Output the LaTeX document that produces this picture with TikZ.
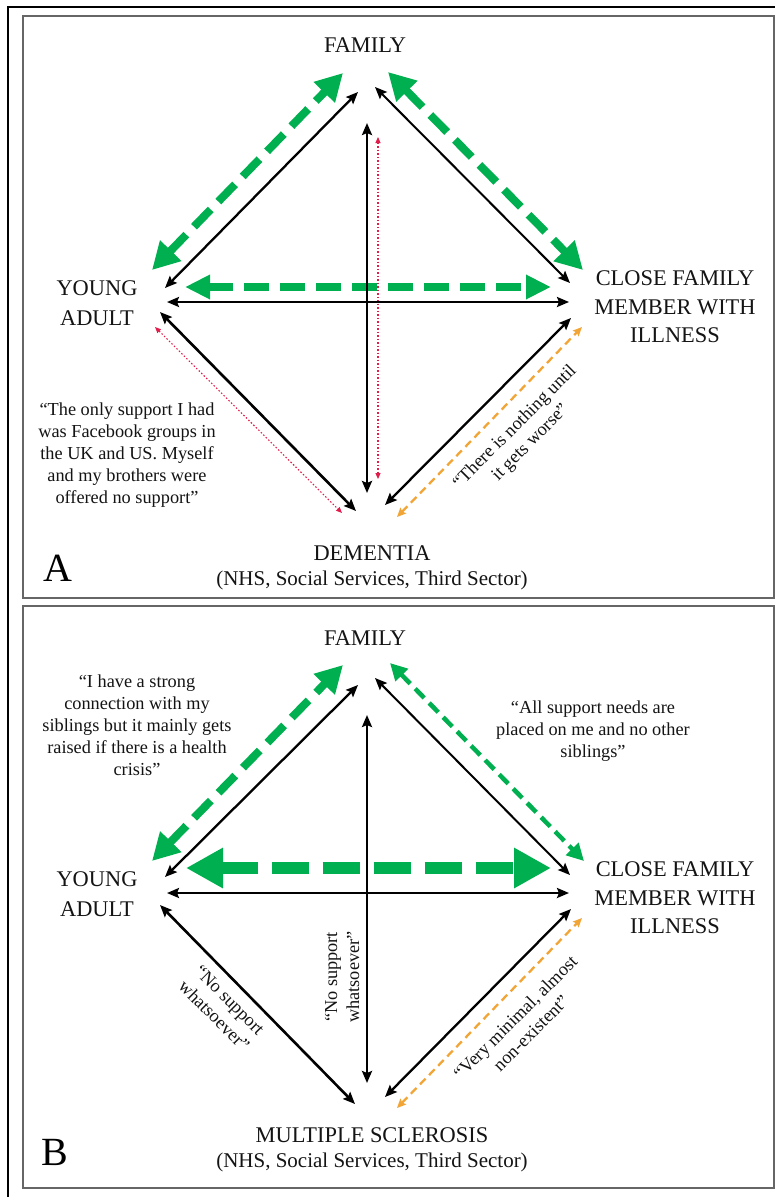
\documentclass[tikz,border=0pt]{standalone}
\usepackage{fontspec}
\setmainfont{Liberation Serif}
\newfontfamily\tnr{Liberation Serif}
\usetikzlibrary{arrows.meta}
\definecolor{grn}{RGB}{0,176,80}
\definecolor{crim}{RGB}{225,30,75}
\definecolor{orng}{RGB}{242,165,55}
\definecolor{txt}{RGB}{20,20,20}
\begin{document}
\begin{tikzpicture}[x=1pt,y=-1pt,
  lbl/.style={font=\tnr\fontsize{22.4}{29.5}\selectfont, align=center, text=txt, inner sep=0pt},
  cflbl/.style={font=\tnr\fontsize{22.4}{28.5}\selectfont, align=center, text=txt, inner sep=0pt},
  sublbl/.style={font=\tnr\fontsize{21}{25}\selectfont, align=center, text=txt, inner sep=0pt},
  biglbl/.style={font=\tnr\fontsize{40}{44}\selectfont, text=black, inner sep=0pt},
  quotetxt/.style={font=\tnr\fontsize{18.3}{22}\selectfont, align=center, text=txt, inner sep=0pt},
  blk/.style={draw=black, line width=2.3pt, {Stealth[length=12pt,width=10pt,inset=2pt]}-{Stealth[length=12pt,width=10pt,inset=2pt]}},
  blkv/.style={blk, line width=2.6pt},
  grnA/.style={draw=grn, line width=8pt, dash pattern=on 24pt off 11pt, {Triangle[length=27pt,width=28pt]}-{Triangle[length=27pt,width=28pt]}},
  grnAh/.style={draw=grn, line width=8pt, dash pattern=on 25pt off 11pt, {Triangle[length=25pt,width=23pt]}-{Triangle[length=25pt,width=23pt]}},
  grnBh/.style={draw=grn, line width=12pt, dash pattern=on 37pt off 14pt, {Triangle[length=37pt,width=38pt]}-{Triangle[length=37pt,width=38pt]}},
  grnthin/.style={draw=grn, line width=4.5pt, dash pattern=on 13pt off 7pt, {Triangle[length=17pt,width=17pt]}-{Triangle[length=17pt,width=17pt]}},
  reddot/.style={draw=crim, line width=1.1pt, dash pattern=on 1.5pt off 2pt, {Triangle[length=6pt,width=5pt]}-{Triangle[length=6pt,width=5pt]}},
  orgdash/.style={draw=orng, line width=2.3pt, dash pattern=on 8pt off 5pt, {Stealth[length=9pt,width=8pt,inset=1.5pt]}-{Stealth[length=9pt,width=8pt,inset=1.5pt]}},
  panel/.style={draw=black!60, line width=1.5pt}
]
\useasboundingbox (0,0) rectangle (775,1197);
\fill[white] (0,0) rectangle (775,1197);
% outer frame
\coordinate (oTL) at (8,7);
\coordinate (oTR) at (776,7);
\coordinate (oBL) at (8,1198);
\draw[black, line width=1.6pt] (oBL) -- (oTL) -- (oTR);
% panel frames
\node[panel, minimum width=751pt, minimum height=582pt, inner sep=0pt] (frameA) at (398.5,307) {};
\node[panel, minimum width=751pt, minimum height=582pt, inner sep=0pt] (frameB) at (398.5,897) {};

%%%%%%%%%%%%%%%% PANEL A
\node[lbl] (aFam) at (365,45) {FAMILY};
\node[lbl] (aYA) at (97,303) {YOUNG\\ADULT};
\node[cflbl] (aCF) at (675,307) {CLOSE FAMILY\\MEMBER WITH\\ILLNESS};
\node[lbl] (aDem) at (372,553) {DEMENTIA};
\node[sublbl] (aSub) at (372,580) {(NHS, Social Services, Third Sector)};
\node[biglbl] (aLet) at (58,568) {A};
\node[quotetxt] (aQ1) at (127,455) {“The only support I had\\was Facebook groups in\\the UK and US. Myself\\and my brothers were\\offered no support”};
\node[quotetxt, rotate=45] (aQ2) at (523,435) {“There is nothing until\\it gets worse”};

\coordinate (aG1s) at (152,270); \coordinate (aG1e) at (343,73);
\coordinate (aG2s) at (388,72);  \coordinate (aG2e) at (583,270);
\coordinate (aGHs) at (185,287); \coordinate (aGHe) at (551,287);
\coordinate (aK1s) at (165,288); \coordinate (aK1e) at (358,92);
\coordinate (aK2s) at (375,87);  \coordinate (aK2e) at (570,283);
\coordinate (aKHs) at (167,302); \coordinate (aKHe) at (569,302);
\coordinate (aKVs) at (367,123); \coordinate (aKVe) at (367,493);
\coordinate (aRVs) at (378,137); \coordinate (aRVe) at (378,479);
\coordinate (aK3s) at (160,312); \coordinate (aK3e) at (356,511);
\coordinate (aR3s) at (155,327); \coordinate (aR3e) at (342,513);
\coordinate (aK4s) at (385,505); \coordinate (aK4e) at (571,318);
\coordinate (aO4s) at (397,517); \coordinate (aO4e) at (582,327);

\draw[grnA] (aG1s) -- (aG1e);
\draw[grnA] (aG2s) -- (aG2e);
\draw[grnAh] (aGHs) -- (aGHe);
\draw[reddot] (aRVs) -- (aRVe);
\draw[reddot] (aR3s) -- (aR3e);
\draw[blk] (aK1s) -- (aK1e);
\draw[blk, line width=2pt] (aK2s) -- (aK2e);
\draw[blk] (aKHs) -- (aKHe);
\draw[blkv] (aKVs) -- (aKVe);
\draw[blkv] (aK3s) -- (aK3e);
\draw[blk] (aK4s) -- (aK4e);
\draw[orgdash] (aO4s) -- (aO4e);

%%%%%%%%%%%%%%%% PANEL B
\node[lbl] (bFam) at (365,638) {FAMILY};
\node[lbl] (bYA) at (97,894) {YOUNG\\ADULT};
\node[cflbl] (bCF) at (675,898) {CLOSE FAMILY\\MEMBER WITH\\ILLNESS};
\node[lbl] (bMS) at (372,1135) {MULTIPLE SCLEROSIS};
\node[sublbl] (bSub) at (372,1162) {(NHS, Social Services, Third Sector)};
\node[biglbl] (bLet) at (55,1152) {B};
\node[quotetxt] (bQ1) at (137,725) {“I have a strong\\connection with my\\siblings but it mainly gets\\raised if there is a health\\crisis”};
\node[quotetxt] (bQ2) at (593,731) {“All support needs are\\placed on me and no other\\siblings”};
\node[quotetxt, rotate=-45] (bQ3) at (222,1008) {“No support\\whatsoever”};
\node[quotetxt, rotate=90] (bQ4) at (342,977) {“No support\\whatsoever”};
\node[quotetxt, rotate=45] (bQ5) at (523,1025) {“Very minimal, almost\\non-existent”};

\coordinate (bG1s) at (152,861); \coordinate (bG1e) at (343,665);
\coordinate (bG2s) at (390,663); \coordinate (bG2e) at (584,861);
\coordinate (bGHs) at (186,868); \coordinate (bGHe) at (551,868);
\coordinate (bK1s) at (165,877); \coordinate (bK1e) at (358,685);
\coordinate (bK2s) at (375,678); \coordinate (bK2e) at (570,875);
\coordinate (bKHs) at (167,893); \coordinate (bKHe) at (569,893);
\coordinate (bKVs) at (367,715); \coordinate (bKVe) at (367,1083);
\coordinate (bK3s) at (160,905); \coordinate (bK3e) at (355,1104);
\coordinate (bK4s) at (385,1097); \coordinate (bK4e) at (571,909);
\coordinate (bO4s) at (397,1108); \coordinate (bO4e) at (582,918);

\draw[grnA] (bG1s) -- (bG1e);
\draw[grnthin] (bG2s) -- (bG2e);
\draw[grnBh] (bGHs) -- (bGHe);
\draw[blk] (bK1s) -- (bK1e);
\draw[blk, line width=2pt] (bK2s) -- (bK2e);
\draw[blk] (bKHs) -- (bKHe);
\draw[blkv] (bKVs) -- (bKVe);
\draw[blkv] (bK3s) -- (bK3e);
\draw[blk] (bK4s) -- (bK4e);
\draw[orgdash] (bO4s) -- (bO4e);
\end{tikzpicture}
\end{document}
